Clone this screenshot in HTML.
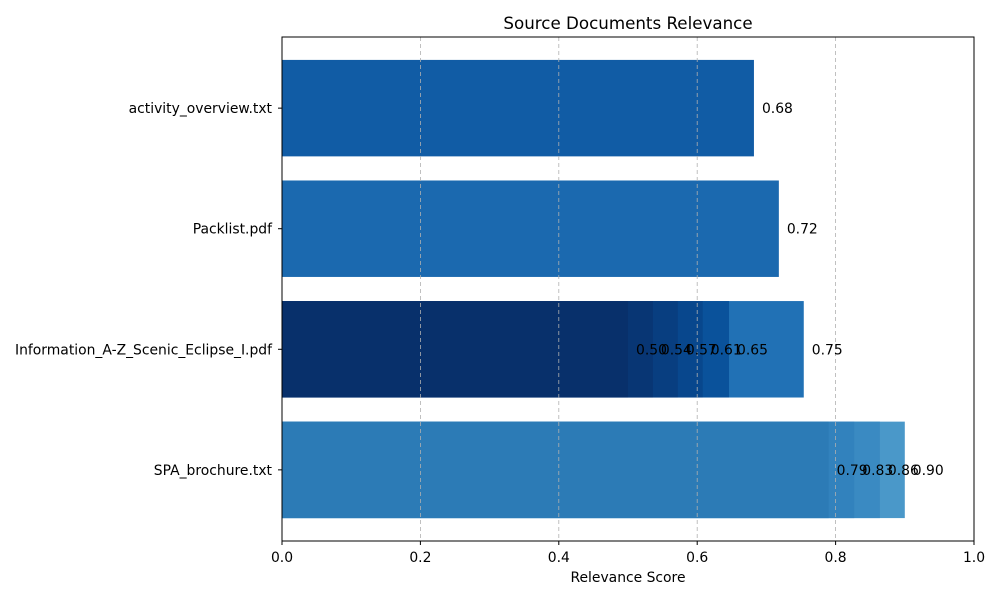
<!DOCTYPE html>
<html><head><meta charset="utf-8"><style>body{margin:0;background:#fff}svg{font-family:"DejaVu Sans","Liberation Sans",sans-serif}</style></head>
<body>
<svg width="1000" height="600" id="c"></svg>
<script>
const categories=["activity_overview.txt","Packlist.pdf","Information_A-Z_Scenic_Eclipse_I.pdf","SPA_brochure.txt"];
const seriesValues=[[0.682],[0.718],[0.754,0.646,0.608,0.572,0.536,0.500],[0.900,0.864,0.827,0.790]];
const valueLabels=[["0.68"],["0.72"],["0.75","0.65","0.61","0.57","0.54","0.50"],["0.90","0.86","0.83","0.79"]];
const seriesColors=[["#115ca5"],["#1b69af"],["#2171b5","#0a529b","#08478d","#083e80","#083674","#08306b"],["#4a98c9","#3a8ac2","#3282bd","#2c7bb6"]];
const xTicks=[0,0.2,0.4,0.6,0.8,1.0];
const xTickLabels=["0.0","0.2","0.4","0.6","0.8","1.0"];
const L=282,R=974,T=37,B=541;
const FS=13.9;
const svg=document.getElementById('c');const NS="http://www.w3.org/2000/svg";
const x=v=>L+(R-L)*v;
const n=categories.length;
const ymin=-0.4-0.05*(n-1+0.8), ymax=n-1+0.4+0.05*(n-1+0.8);
const yv=v=>T+(B-T)*(v-ymin)/(ymax-ymin);
const yc=i=>yv(i);
const bh=yv(0.4)-yv(-0.4);
function mk(t,a,p){const e=document.createElementNS(NS,t);for(const k in a)e.setAttribute(k,a[k]);(p||svg).appendChild(e);return e;}
categories.forEach((c,i)=>{
  seriesValues[i].forEach((v,j)=>{
    const r=mk('rect',{x:x(0),y:yc(i)-bh/2,width:x(v)-x(0),height:bh,fill:seriesColors[i][j]});
    
    
  });
});
xTicks.forEach((t,k)=>{
  if(t>0&&t<1){const g=mk('line',{x1:x(t),x2:x(t),y1:T,y2:B,stroke:"#b0b0b0","stroke-dasharray":"4,3","stroke-width":0.8});
  }
  mk('line',{x1:x(t),x2:x(t),y1:B,y2:B+4,stroke:"#000"});
  const tl=mk('text',{x:x(t),y:B+21,"font-size":FS,"text-anchor":"middle"});tl.textContent=xTickLabels[k];
  
});
categories.forEach((c,i)=>{
  mk('line',{x1:L-4,x2:L,y1:yc(i),y2:yc(i),stroke:"#000"});
  const t=mk('text',{x:L-10,y:yc(i)+5,"font-size":FS,"text-anchor":"end"});t.textContent=c;
  
  seriesValues[i].forEach((v,j)=>{
    const vl=mk('text',{x:x(v)+8,y:yc(i)+5,"font-size":FS});vl.textContent=valueLabels[i][j];
    
  });
});
const fr=mk('rect',{x:L,y:T,width:R-L,height:B-T,fill:"none",stroke:"#000","stroke-width":1});

const ti=mk('text',{x:(L+R)/2,y:29,"font-size":16.7,"text-anchor":"middle"});ti.textContent="Source Documents Relevance";

const xt=mk('text',{x:(L+R)/2,y:582,"font-size":FS,"text-anchor":"middle"});xt.textContent="Relevance Score";

</script>
</body></html>
